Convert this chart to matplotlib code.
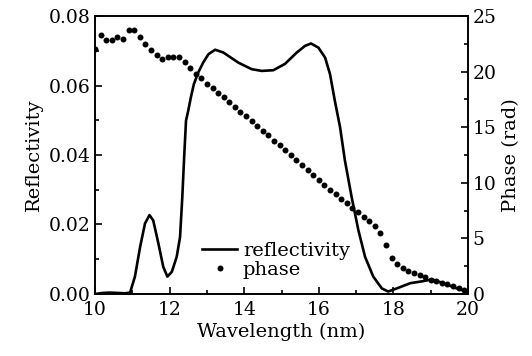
import matplotlib.pyplot as plt
import numpy as np
from matplotlib.ticker import MultipleLocator

plt.rcParams['font.family'] = ['DejaVu Serif']

# reflectivity curve (wavelength in nm)
refl_wl = [10.0, 10.2, 10.4, 10.6, 10.8, 10.94, 11.07, 11.21, 11.34, 11.46,
           11.56, 11.7, 11.83, 11.94, 12.06, 12.19, 12.28, 12.34, 12.39, 12.44,
           12.5, 12.57, 12.65, 12.77, 12.9, 13.04, 13.22, 13.44, 13.84, 14.2,
           14.47, 14.78, 15.09, 15.41, 15.63, 15.79, 15.99, 16.17, 16.3, 16.43,
           16.57, 16.7, 16.88, 17.06, 17.24, 17.46, 17.69, 17.86, 18.09, 18.45,
           18.8, 19.03, 19.34, 19.7, 19.97]
refl = [0.0, 0.0003, 0.0004, 0.0003, 0.0002, 0.0004, 0.005, 0.0136, 0.0203, 0.0227,
        0.0212, 0.0145, 0.0078, 0.005, 0.0064, 0.0107, 0.0164, 0.0279, 0.0394, 0.0499,
        0.0528, 0.0566, 0.0604, 0.0638, 0.0666, 0.069, 0.0703, 0.0695, 0.0666, 0.0647,
        0.0642, 0.0644, 0.0662, 0.0695, 0.0714, 0.0721, 0.0709, 0.068, 0.0633, 0.0556,
        0.048, 0.0384, 0.0279, 0.0184, 0.0107, 0.005, 0.0016, 0.0007, 0.0016, 0.0031,
        0.0037, 0.0042, 0.0031, 0.0016, 0.0007]

# phase samples, every 0.15 nm from 10 nm
phase_wl = np.arange(67) * 0.15 + 10.0
phase = [22.0, 23.3, 22.8, 22.8, 23.1, 22.9, 23.7, 23.7, 23.1, 22.5,
         21.9, 21.5, 21.1, 21.3, 21.3, 21.3, 20.9, 20.3, 19.8, 19.4,
         18.9, 18.5, 18.1, 17.7, 17.3, 16.8, 16.4, 16.0, 15.6, 15.1,
         14.7, 14.3, 13.8, 13.4, 12.95, 12.5, 12.05, 11.6, 11.15, 10.7,
         10.25, 9.8, 9.35, 8.97, 8.54, 8.15, 7.76, 7.37, 6.95, 6.56,
         6.1, 5.5, 4.4, 3.2, 2.7, 2.34, 2.1, 1.9, 1.7, 1.5,
         1.3, 1.17, 1.0, 0.87, 0.72, 0.54, 0.36]

fig = plt.figure(figsize=(5.32, 3.56), dpi=100)
ax = fig.add_axes([0.1786, 0.1742, 0.7011, 0.7808])
ax2 = ax.twinx()

l1, = ax.plot(refl_wl, refl, color='black', lw=1.9, label='reflectivity',
              solid_joinstyle='round')
l2, = ax2.plot(phase_wl, phase, 'o', color='black', ms=4.3, mec='none', label='phase')

ax.set_xlim(10, 20)
ax.set_ylim(0, 0.08)
ax2.set_ylim(0, 25)

ax.xaxis.set_major_locator(MultipleLocator(2))
ax.xaxis.set_minor_locator(MultipleLocator(1))
ax.yaxis.set_major_locator(MultipleLocator(0.02))
ax.yaxis.set_minor_locator(MultipleLocator(0.01))
ax2.yaxis.set_major_locator(MultipleLocator(5))
ax2.yaxis.set_minor_locator(MultipleLocator(2.5))
ax.yaxis.set_major_formatter(plt.FormatStrFormatter('%.2f'))

for a in (ax, ax2):
    a.tick_params(which='both', direction='in', labelsize=13.5, width=1.2)
    a.tick_params(which='major', length=5)
    a.tick_params(which='minor', length=3)
    for s in a.spines.values():
        s.set_linewidth(1.2)
ax.tick_params(axis='x', pad=5)

ax.set_xlabel('Wavelength (nm)', fontsize=14, labelpad=3)
ax.set_ylabel('Reflectivity', fontsize=14)
ax2.set_ylabel('Phase (rad)', fontsize=14)

ax.legend([l1, l2], ['reflectivity', 'phase'], loc='lower left',
          bbox_to_anchor=(0.24, -0.01), frameon=False, fontsize=14,
          handlelength=1.8, handletextpad=0.3, labelspacing=0.05)

fig.savefig('out.png', dpi=100)
